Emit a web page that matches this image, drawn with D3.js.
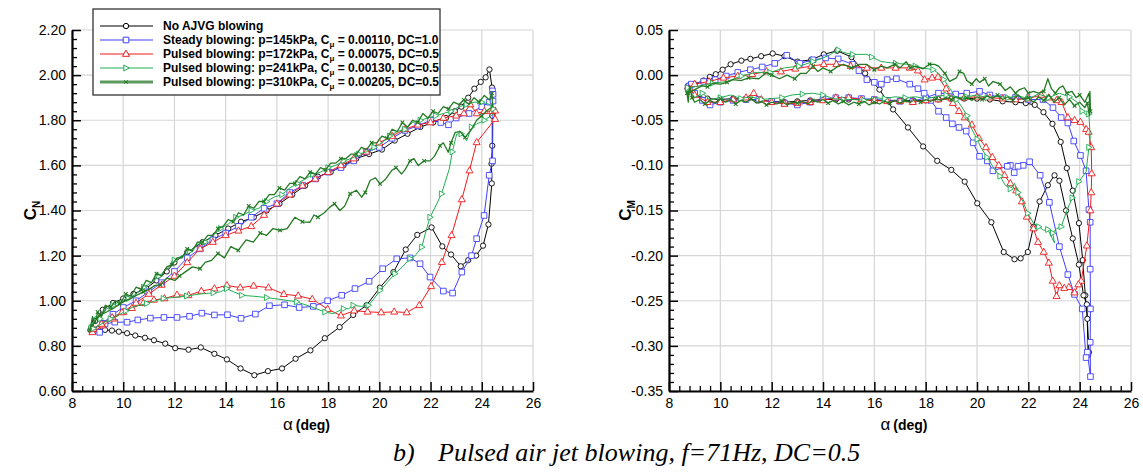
<!DOCTYPE html>
<html><head><meta charset="utf-8">
<script src="https://cdn.jsdelivr.net/npm/d3@7"></script>
<style>body{margin:0;background:#fff}svg{display:block}</style>
</head><body>
<svg id="c" width="1143" height="473"></svg>
<script>
// ---------- categories / ticks ----------
const alphaTickValues = [8,10,12,14,16,18,20,22,24,26];
const alphaTickLabels = ["8","10","12","14","16","18","20","22","24","26"];
const cnTickValues = [0.6,0.8,1.0,1.2,1.4,1.6,1.8,2.0,2.2];
const cnTickLabels = ["0.60","0.80","1.00","1.20","1.40","1.60","1.80","2.00","2.20"];
const cmTickValues = [-0.35,-0.30,-0.25,-0.20,-0.15,-0.10,-0.05,0.00,0.05];
const cmTickLabels = ["-0.35","-0.30","-0.25","-0.20","-0.15","-0.10","-0.05","0.00","0.05"];

// ---------- legend ----------
const seriesNames = ["No AJVG blowing","Steady blowing","Pulsed blowing","Pulsed blowing","Pulsed blowing"];
const pressures = ["","145kPa","172kPa","241kPa","310kPa"];
const cmuValues = ["","0.00110","0.00075","0.00130","0.00205"];
const dutyCycles = ["","1.0","0.5","0.5","0.5"];

// ---------- C_N data  [alpha, CN] ----------
const cnNoBlowing = [[8.72,0.87],[8.9,0.91],[9.2,0.96],[9.6,0.99],[10.0,1.01],[10.4,1.03],[10.9,1.055],[11.3,1.09],[11.7,1.13],[12.0,1.17],[12.5,1.215],[13.1,1.26],[13.6,1.29],[14.1,1.32],[14.6,1.35],[15.1,1.37],[15.6,1.40],[16.1,1.43],[16.6,1.47],[17.1,1.51],[17.6,1.55],[18.1,1.57],[18.6,1.60],[19.1,1.63],[19.6,1.65],[20.1,1.67],[20.6,1.71],[21.1,1.74],[21.6,1.77],[22.1,1.79],[22.6,1.81],[22.95,1.84],[23.2,1.86],[23.47,1.90],[23.71,1.94],[23.96,1.97],[24.15,1.99],[24.3,2.025],[24.4,1.945],[24.41,1.82],[24.41,1.687],[24.38,1.607],[24.39,1.52],[24.26,1.338],[24.05,1.244],[23.78,1.20],[23.47,1.18],[23.18,1.153],[22.8,1.205],[22.46,1.241],[22.04,1.325],[21.48,1.292],[21.03,1.227],[20.55,1.127],[20.02,1.058],[19.5,0.98],[18.98,0.937],[18.45,0.883],[17.87,0.834],[17.31,0.78],[16.73,0.743],[16.2,0.70],[15.65,0.688],[15.12,0.67],[14.58,0.70],[14.05,0.74],[13.56,0.765],[13.03,0.793],[12.55,0.783],[12.03,0.79],[11.64,0.81],[11.2,0.825],[10.85,0.836],[10.47,0.846],[10.15,0.856],[9.83,0.863],[9.56,0.868],[9.29,0.871],[9.0,0.875],[8.76,0.882]];
const cnSteady = [[8.8,0.87],[9.2,0.9],[9.6,0.94],[10.0,0.97],[10.5,1.0],[11.0,1.04],[11.5,1.08],[12.0,1.13],[12.5,1.19],[13.0,1.23],[13.5,1.27],[14.0,1.30],[14.5,1.33],[15.0,1.37],[15.5,1.41],[16.0,1.43],[16.5,1.48],[17.0,1.51],[17.5,1.54],[18.0,1.57],[18.5,1.59],[19.0,1.62],[19.5,1.66],[20.0,1.68],[20.5,1.72],[21.0,1.755],[21.5,1.775],[22.0,1.80],[22.4,1.79],[22.7,1.78],[23.0,1.81],[23.5,1.83],[24.0,1.86],[24.3,1.88],[24.42,1.93],[24.44,1.915],[24.44,1.885],[24.42,1.62],[24.29,1.556],[24.09,1.378],[23.8,1.275],[23.6,1.20],[23.22,1.127],[22.86,1.034],[22.5,1.043],[21.98,1.105],[21.59,1.164],[21.2,1.19],[20.68,1.186],[20.13,1.142],[19.6,1.086],[19.05,1.054],[18.53,1.024],[17.98,1.0],[17.42,0.975],[16.87,0.97],[16.3,0.982],[15.71,0.978],[15.16,0.941],[14.6,0.922],[14.07,0.938],[13.56,0.937],[13.07,0.945],[12.59,0.931],[12.1,0.926],[11.59,0.926],[11.06,0.923],[10.57,0.915],[10.15,0.905],[9.67,0.905],[9.29,0.897],[9.08,0.86],[8.8,0.865]];
const cnPulsed172 = [[8.8,0.86],[9.2,0.89],[9.6,0.92],[10.0,0.95],[10.5,0.99],[11.0,1.03],[11.5,1.07],[12.0,1.11],[12.5,1.17],[13.0,1.23],[13.5,1.26],[14.0,1.29],[14.5,1.31],[15.0,1.33],[15.5,1.38],[16.0,1.43],[16.5,1.47],[17.0,1.51],[17.5,1.54],[18.0,1.57],[18.5,1.60],[19.0,1.63],[19.5,1.66],[20.0,1.70],[20.5,1.73],[21.0,1.76],[21.5,1.78],[22.0,1.79],[22.5,1.81],[23.0,1.82],[23.3,1.83],[23.55,1.87],[23.8,1.83],[24.1,1.84],[24.4,1.84],[24.52,1.842],[24.52,1.805],[23.8,1.702],[23.52,1.577],[23.22,1.449],[22.82,1.29],[22.44,1.171],[22.02,1.064],[21.56,0.98],[21.07,0.948],[20.58,0.951],[20.07,0.948],[19.54,0.951],[19.02,0.956],[18.5,0.934],[17.98,0.963],[17.38,1.007],[16.83,1.022],[16.27,1.029],[15.67,1.058],[15.09,1.066],[14.57,1.058],[14.05,1.068],[13.56,1.054],[13.05,1.043],[12.55,1.024],[12.1,1.026],[11.61,1.01],[11.2,1.004],[10.78,0.989],[10.34,0.967],[9.95,0.948],[9.57,0.926],[9.15,0.897],[8.83,0.875]];
const cnPulsed241 = [[8.75,0.88],[8.9,0.93],[9.1,0.92],[9.3,0.96],[9.6,0.98],[9.9,1.0],[10.2,1.01],[10.5,1.03],[10.8,1.06],[11.1,1.08],[11.4,1.11],[11.7,1.14],[12.0,1.18],[12.3,1.20],[12.6,1.22],[12.9,1.25],[13.2,1.26],[13.5,1.29],[13.8,1.32],[14.1,1.34],[14.4,1.37],[14.7,1.38],[15.0,1.40],[15.3,1.41],[15.6,1.44],[15.9,1.46],[16.2,1.47],[16.5,1.50],[16.8,1.52],[17.1,1.54],[17.4,1.56],[17.7,1.57],[18.0,1.59],[18.3,1.60],[18.6,1.62],[18.9,1.63],[19.2,1.65],[19.5,1.66],[19.8,1.68],[20.1,1.70],[20.4,1.73],[20.7,1.75],[21.0,1.76],[21.3,1.79],[21.6,1.80],[21.9,1.81],[22.2,1.82],[22.5,1.83],[22.8,1.84],[23.1,1.86],[23.4,1.87],[23.7,1.88],[24.0,1.88],[24.3,1.87],[24.45,1.85],[24.45,1.827],[24.1,1.80],[23.8,1.783],[23.6,1.77],[23.41,1.709],[23.2,1.74],[23.02,1.739],[22.85,1.66],[22.73,1.584],[22.43,1.474],[22.2,1.42],[21.98,1.37],[21.8,1.30],[21.66,1.238],[21.4,1.20],[21.2,1.187],[20.9,1.15],[20.61,1.12],[20.3,1.08],[20.03,1.046],[19.8,1.01],[19.57,0.98],[19.3,0.975],[18.98,0.98],[18.8,0.965],[18.6,0.965],[18.2,0.943],[17.88,0.95],[17.3,0.975],[16.77,0.995],[16.2,1.005],[15.6,1.014],[15.1,1.02],[14.63,1.024],[14.3,1.04],[14.04,1.054],[13.8,1.04],[13.52,1.035],[13.0,1.03],[12.48,1.021],[12.0,1.015],[11.57,1.01],[11.2,0.998],[10.92,0.988],[10.39,0.973],[10.1,0.955],[9.81,0.936],[9.5,0.92],[9.29,0.906],[8.83,0.877]];
const cnPulsed310 = [[8.7,0.87],[8.8,0.93],[8.9,0.90],[9.0,0.95],[9.15,0.93],[9.3,0.98],[9.5,0.97],[9.7,1.0],[9.9,0.99],[10.1,1.03],[10.3,1.02],[10.5,1.06],[10.7,1.05],[10.9,1.09],[11.1,1.08],[11.3,1.12],[11.5,1.11],[11.7,1.15],[11.9,1.16],[12.1,1.19],[12.3,1.19],[12.5,1.23],[12.7,1.22],[12.9,1.26],[13.1,1.26],[13.3,1.29],[13.5,1.29],[13.7,1.32],[13.9,1.33],[14.1,1.36],[14.3,1.35],[14.5,1.39],[14.7,1.38],[14.9,1.42],[15.1,1.41],[15.3,1.44],[15.5,1.44],[15.7,1.47],[15.9,1.47],[16.1,1.50],[16.3,1.49],[16.5,1.52],[16.7,1.52],[16.9,1.55],[17.1,1.54],[17.3,1.57],[17.5,1.56],[17.7,1.59],[17.9,1.58],[18.1,1.61],[18.3,1.61],[18.5,1.63],[18.7,1.63],[18.9,1.65],[19.1,1.65],[19.3,1.68],[19.5,1.67],[19.7,1.70],[19.9,1.70],[20.1,1.73],[20.3,1.72],[20.5,1.76],[20.7,1.75],[20.9,1.79],[21.1,1.77],[21.3,1.80],[21.5,1.79],[21.7,1.83],[21.9,1.81],[22.1,1.84],[22.3,1.83],[22.5,1.86],[22.7,1.85],[22.9,1.88],[23.1,1.87],[23.3,1.89],[23.5,1.87],[23.7,1.90],[23.9,1.88],[24.1,1.91],[24.3,1.89],[24.4,1.92],[24.42,1.86],[24.19,1.842],[24.0,1.82],[23.8,1.80],[23.6,1.76],[23.35,1.724],[23.15,1.75],[22.96,1.746],[22.8,1.70],[22.69,1.658],[22.5,1.70],[22.37,1.687],[22.15,1.64],[21.98,1.62],[21.75,1.62],[21.52,1.599],[21.35,1.63],[21.2,1.62],[21.0,1.58],[20.87,1.562],[20.65,1.59],[20.48,1.577],[20.25,1.54],[20.03,1.518],[19.85,1.545],[19.64,1.533],[19.45,1.48],[19.31,1.459],[19.1,1.49],[18.86,1.474],[18.65,1.42],[18.46,1.40],[18.25,1.43],[18.07,1.415],[17.85,1.39],[17.6,1.37],[17.45,1.38],[17.29,1.348],[17.0,1.35],[16.7,1.37],[16.4,1.32],[16.12,1.312],[15.85,1.32],[15.6,1.29],[15.35,1.30],[15.08,1.26],[14.8,1.27],[14.49,1.223],[14.2,1.24],[13.95,1.19],[13.7,1.21],[13.45,1.179],[13.2,1.17],[13.0,1.142],[12.7,1.15],[12.41,1.127],[12.2,1.11],[12.02,1.09],[11.7,1.10],[11.45,1.07],[11.24,1.068],[11.0,1.05],[10.78,1.039],[10.45,1.02],[10.13,1.002],[9.85,0.985],[9.61,0.966],[9.35,0.95],[9.09,0.936],[8.9,0.91],[8.77,0.884]];

// ---------- C_M data  [alpha, CM] ----------
const cmNoBlowing = [[8.72,-0.015],[9.0,-0.022],[9.5,-0.026],[10.0,-0.027],[10.5,-0.026],[11.0,-0.027],[11.5,-0.028],[12.0,-0.029],[12.5,-0.03],[13.0,-0.029],[13.5,-0.028],[14.0,-0.027],[14.5,-0.027],[15.0,-0.027],[15.5,-0.027],[16.0,-0.028],[16.5,-0.028],[17.0,-0.028],[17.5,-0.028],[18.0,-0.028],[18.5,-0.027],[19.0,-0.026],[19.5,-0.026],[20.0,-0.026],[20.5,-0.027],[21.0,-0.029],[21.5,-0.03],[21.9,-0.031],[22.25,-0.033],[22.59,-0.041],[22.94,-0.054],[23.26,-0.074],[23.5,-0.103],[23.73,-0.128],[23.97,-0.164],[24.12,-0.205],[24.22,-0.244],[24.3,-0.27],[24.36,-0.307],[24.33,-0.31],[24.28,-0.254],[24.15,-0.244],[23.97,-0.21],[23.73,-0.181],[23.47,-0.15],[23.21,-0.117],[23.02,-0.111],[22.76,-0.122],[22.44,-0.14],[22.2,-0.168],[21.98,-0.196],[21.7,-0.203],[21.46,-0.204],[21.04,-0.196],[20.56,-0.163],[20.01,-0.142],[19.52,-0.118],[19.0,-0.105],[18.45,-0.095],[17.9,-0.079],[17.31,-0.058],[16.73,-0.038],[16.2,-0.016],[15.64,0.002],[15.11,0.02],[14.55,0.027],[14.03,0.023],[13.54,0.017],[13.01,0.015],[12.5,0.021],[12.04,0.024],[11.59,0.021],[11.17,0.018],[10.82,0.016],[10.4,0.012],[10.09,0.006],[9.82,0.001],[9.59,-0.002],[9.35,-0.006],[9.0,-0.01],[8.73,-0.012]];
const cmSteady = [[8.8,-0.012],[9.0,-0.02],[9.3,-0.028],[9.6,-0.033],[10.0,-0.03],[10.5,-0.028],[11.0,-0.027],[11.5,-0.027],[12.0,-0.029],[12.5,-0.031],[13.0,-0.033],[13.5,-0.03],[14.0,-0.027],[14.5,-0.025],[15.0,-0.025],[15.5,-0.026],[16.0,-0.027],[16.5,-0.028],[17.0,-0.029],[17.5,-0.029],[18.0,-0.025],[18.5,-0.02],[19.17,-0.021],[19.6,-0.02],[20.1,-0.018],[20.5,-0.022],[21.0,-0.025],[21.5,-0.025],[22.0,-0.027],[22.57,-0.027],[22.96,-0.036],[23.28,-0.047],[23.54,-0.053],[23.77,-0.073],[24.03,-0.089],[24.25,-0.106],[24.36,-0.149],[24.41,-0.163],[24.41,-0.215],[24.42,-0.259],[24.41,-0.296],[24.42,-0.334],[24.3,-0.307],[24.25,-0.313],[24.1,-0.259],[23.8,-0.243],[23.54,-0.221],[23.21,-0.19],[22.82,-0.141],[22.46,-0.111],[22.05,-0.096],[21.8,-0.10],[21.6,-0.101],[21.45,-0.108],[21.3,-0.10],[21.18,-0.101],[20.62,-0.106],[20.4,-0.095],[20.1,-0.09],[19.85,-0.075],[19.58,-0.062],[19.3,-0.058],[19.04,-0.054],[18.8,-0.047],[18.5,-0.04],[18.2,-0.028],[17.94,-0.02],[17.7,-0.015],[17.38,-0.01],[16.86,-0.004],[16.5,-0.005],[16.27,-0.01],[16.0,-0.008],[15.71,-0.005],[15.4,0.005],[15.15,0.012],[14.59,0.018],[14.1,0.019],[13.61,0.017],[13.1,0.013],[12.59,0.022],[12.12,0.013],[11.63,0.009],[11.17,0.006],[10.68,0.003],[10.23,-0.001],[9.8,-0.005],[9.35,-0.007],[8.87,-0.01]];
const cmPulsed172 = [[8.8,-0.015],[9.0,-0.022],[9.5,-0.03],[10.0,-0.03],[10.5,-0.027],[11.0,-0.025],[11.3,-0.02],[11.6,-0.027],[12.0,-0.03],[12.5,-0.032],[13.0,-0.031],[13.5,-0.03],[14.0,-0.028],[14.5,-0.025],[15.0,-0.025],[15.5,-0.027],[16.0,-0.028],[16.5,-0.029],[17.0,-0.029],[17.5,-0.03],[18.0,-0.028],[18.5,-0.027],[19.0,-0.026],[19.5,-0.025],[20.0,-0.024],[20.5,-0.025],[21.0,-0.026],[21.5,-0.027],[22.0,-0.026],[22.5,-0.022],[22.8,-0.025],[23.1,-0.028],[23.3,-0.03],[23.54,-0.047],[23.8,-0.05],[24.03,-0.052],[24.25,-0.06],[24.35,-0.063],[24.45,-0.08],[24.47,-0.109],[24.45,-0.13],[24.42,-0.15],[24.28,-0.189],[24.06,-0.228],[23.95,-0.232],[23.8,-0.241],[23.58,-0.235],[23.4,-0.236],[23.21,-0.233],[23.1,-0.245],[22.95,-0.228],[22.8,-0.208],[22.6,-0.196],[22.38,-0.185],[22.2,-0.17],[21.94,-0.157],[21.75,-0.14],[21.53,-0.128],[21.3,-0.12],[21.07,-0.111],[20.85,-0.1],[20.6,-0.091],[20.35,-0.08],[20.08,-0.07],[19.8,-0.055],[19.52,-0.047],[19.3,-0.04],[19.06,-0.031],[18.8,-0.015],[18.48,-0.002],[18.25,-0.003],[17.96,-0.005],[17.7,0.005],[17.38,0.008],[16.83,0.008],[16.27,0.008],[15.71,0.008],[15.08,0.01],[14.52,0.012],[14.03,0.012],[13.54,0.01],[12.92,0.007],[12.36,0.004],[11.8,0.004],[11.24,0.001],[10.68,-0.001],[10.12,-0.003],[9.56,-0.007],[9.0,-0.01]];
const cmPulsed241 = [[8.75,-0.015],[9.0,-0.025],[9.3,-0.02],[9.6,-0.027],[10.0,-0.025],[10.4,-0.022],[10.8,-0.026],[11.2,-0.024],[11.6,-0.027],[12.0,-0.026],[12.4,-0.025],[12.8,-0.022],[13.2,-0.021],[13.6,-0.02],[14.0,-0.022],[14.4,-0.026],[14.8,-0.027],[15.2,-0.027],[15.6,-0.028],[16.0,-0.025],[16.4,-0.026],[16.8,-0.024],[17.2,-0.025],[17.6,-0.024],[18.0,-0.026],[18.4,-0.024],[18.8,-0.022],[19.2,-0.025],[19.6,-0.024],[20.0,-0.022],[20.4,-0.025],[20.8,-0.023],[21.2,-0.025],[21.6,-0.023],[22.0,-0.026],[22.4,-0.021],[22.8,-0.025],[23.2,-0.02],[23.6,-0.024],[23.9,-0.03],[24.1,-0.04],[24.3,-0.045],[24.36,-0.043],[24.41,-0.069],[24.36,-0.08],[24.25,-0.107],[23.97,-0.118],[23.85,-0.125],[23.71,-0.136],[23.5,-0.15],[23.28,-0.168],[23.1,-0.17],[22.95,-0.175],[23.02,-0.186],[22.76,-0.171],[22.6,-0.172],[22.41,-0.168],[22.2,-0.164],[21.98,-0.153],[21.79,-0.14],[21.6,-0.13],[21.46,-0.12],[21.3,-0.126],[21.1,-0.122],[20.9,-0.112],[20.7,-0.105],[20.39,-0.091],[20.15,-0.08],[20.01,-0.071],[19.8,-0.06],[19.62,-0.045],[19.4,-0.035],[19.2,-0.027],[18.95,-0.015],[18.71,-0.005],[18.5,0.002],[18.29,0.006],[17.87,0.008],[17.6,0.01],[17.31,0.012],[16.83,0.013],[16.27,0.015],[15.9,0.02],[15.71,0.023],[15.15,0.023],[14.8,0.025],[14.59,0.028],[14.17,0.021],[13.61,0.015],[13.3,0.012],[13.06,0.01],[12.5,0.008],[11.94,0.003],[11.38,0.003],[10.82,-0.001],[10.26,-0.007],[9.7,-0.009],[9.15,-0.012],[8.73,-0.014]];
const cmPulsed310 = [[8.7,-0.02],[8.75,-0.03],[8.8,-0.012],[8.9,-0.025],[9.0,-0.03],[9.2,-0.027],[9.4,-0.032],[9.6,-0.028],[9.8,-0.031],[10.0,-0.026],[10.2,-0.03],[10.4,-0.027],[10.6,-0.032],[10.8,-0.028],[11.0,-0.03],[11.2,-0.026],[11.4,-0.031],[11.6,-0.029],[11.8,-0.033],[12.0,-0.03],[12.2,-0.032],[12.4,-0.029],[12.6,-0.033],[12.8,-0.03],[13.0,-0.031],[13.2,-0.029],[13.4,-0.032],[13.6,-0.028],[13.8,-0.03],[14.0,-0.027],[14.2,-0.031],[14.4,-0.028],[14.6,-0.032],[14.8,-0.029],[15.0,-0.033],[15.2,-0.03],[15.4,-0.032],[15.6,-0.029],[15.8,-0.033],[16.0,-0.03],[16.2,-0.032],[16.4,-0.029],[16.6,-0.031],[16.8,-0.028],[17.0,-0.031],[17.2,-0.028],[17.4,-0.03],[17.6,-0.027],[17.8,-0.03],[18.0,-0.027],[18.2,-0.029],[18.4,-0.026],[18.6,-0.028],[18.8,-0.025],[19.0,-0.027],[19.2,-0.024],[19.4,-0.027],[19.6,-0.025],[19.8,-0.028],[20.0,-0.024],[20.2,-0.027],[20.4,-0.023],[20.6,-0.026],[20.8,-0.022],[21.0,-0.027],[21.2,-0.024],[21.4,-0.028],[21.6,-0.022],[21.8,-0.027],[22.0,-0.025],[22.2,-0.03],[22.4,-0.024],[22.6,-0.028],[22.8,-0.022],[23.0,-0.03],[23.2,-0.025],[23.4,-0.033],[23.6,-0.027],[23.8,-0.034],[24.0,-0.03],[24.2,-0.036],[24.3,-0.031],[24.38,-0.045],[24.4,-0.018],[24.42,-0.04],[24.36,-0.02],[24.2,-0.03],[24.0,-0.022],[23.86,-0.025],[23.7,-0.018],[23.5,-0.02],[23.35,-0.012],[23.21,-0.014],[23.05,-0.02],[22.9,-0.015],[22.76,-0.004],[22.6,-0.018],[22.4,-0.02],[22.2,-0.018],[22.0,-0.02],[21.85,-0.014],[21.66,-0.016],[21.5,-0.02],[21.3,-0.013],[21.1,-0.017],[20.9,-0.01],[20.62,-0.007],[20.45,-0.012],[20.3,-0.004],[20.1,-0.008],[19.97,-0.004],[19.8,-0.01],[19.6,-0.006],[19.48,0.002],[19.32,0.004],[19.2,-0.003],[18.93,-0.007],[18.75,0.002],[18.5,0.01],[18.35,0.012],[18.15,0.012],[17.9,0.007],[17.6,0.01],[17.4,0.008],[17.24,0.015],[17.0,0.008],[16.8,0.012],[16.5,0.008],[16.27,0.01],[16.0,0.006],[15.7,0.012],[15.43,0.012],[15.1,0.008],[14.8,0.012],[14.59,0.01],[14.3,0.004],[14.0,0.008],[13.8,0.004],[13.61,0.01],[13.35,0.002],[13.12,0.002],[12.9,-0.004],[12.6,0.0],[12.3,-0.004],[12.0,0.0],[11.8,0.003],[11.5,-0.004],[11.1,-0.003],[10.8,-0.006],[10.5,-0.005],[10.26,-0.008],[10.0,-0.01],[9.7,-0.009],[9.5,-0.013],[9.28,-0.012],[9.0,-0.016],[8.75,-0.02]];

// ---------- styles ----------
const colors = ["#000000","#3f3fff","#ee1a1a","#1fae52","#237a23"];
const markers = ["circle","square","triUp","triRight","cross"];
const markerSteps = [1,1,1,2,3];
const lineWidths = [1,1,1,1,1.3];
const cnSeries = [cnNoBlowing,cnSteady,cnPulsed172,cnPulsed241,cnPulsed310];
const cmSeries = [cmNoBlowing,cmSteady,cmPulsed172,cmPulsed241,cmPulsed310];

const markerPath = {
  circle: d3.symbol().type(d3.symbolCircle).size(22)(),
  square: "M-2.8,-2.8H2.8V2.8H-2.8Z",
  triUp: "M0,-3.9L3.5,2.3L-3.5,2.3Z",
  triRight: "M3.2,0L-2.2,-3L-2.2,3Z",
  cross: "M-1.8,-1.8L1.8,1.8M-1.8,1.8L1.8,-1.8"
};

const FONT = "'Liberation Sans', Arial, Helvetica, sans-serif";
const svg = d3.select("#c");
svg.append("rect").attr("width",1143).attr("height",473).attr("fill","#fff");

function drawPanel(p){
  const g = svg.append("g");
  const x = p.x, y = p.y;
  const [yb, yt] = y.range();
  const [xl, xr] = x.range();
  // grid
  g.selectAll(null).data(alphaTickValues).enter().append("line")
    .attr("x1",d=>x(d)).attr("x2",d=>x(d)).attr("y1",yb).attr("y2",yt)
    .attr("stroke","#d6d6d6").attr("stroke-width",1.2);
  g.selectAll(null).data(p.yTicks).enter().append("line")
    .attr("x1",xl).attr("x2",xr).attr("y1",d=>y(d)).attr("y2",d=>y(d))
    .attr("stroke","#d6d6d6").attr("stroke-width",1.2);
  // series
  p.series.forEach((data,k)=>{
    const line = d3.line().x(d=>x(d[0])).y(d=>y(d[1]));
    g.append("path").attr("d",line(data)).attr("fill","none")
      .attr("stroke",colors[k]).attr("stroke-width",lineWidths[k]).attr("stroke-linejoin","round");
    const pts = data.filter((d,i)=>i % markerSteps[k] === 0);
    g.selectAll(null).data(pts).enter().append("path")
      .attr("transform",d=>`translate(${x(d[0])},${y(d[1])})`)
      .attr("d",markerPath[markers[k]])
      .attr("fill",markers[k]==="cross"?"none":"#fff")
      .attr("stroke",colors[k]).attr("stroke-width",markers[k]==="cross"?1.1:0.9);
  });
  // minor ticks
  const xMinor = d3.range(8,26.001,0.4).filter(v=>Math.abs(v/2-Math.round(v/2))>1e-6);
  g.append("g").attr("transform",`translate(0,${yb})`)
    .call(d3.axisBottom(x).tickValues(xMinor).tickSize(-5).tickSizeOuter(0).tickFormat(""))
    .call(a=>a.select(".domain").remove())
    .call(a=>a.selectAll("line").attr("stroke","#000").attr("stroke-width",1.3));
  g.append("g").attr("transform",`translate(${xl},0)`)
    .call(d3.axisLeft(y).tickValues(p.yMinor).tickSize(-5).tickSizeOuter(0).tickFormat(""))
    .call(a=>a.select(".domain").remove())
    .call(a=>a.selectAll("line").attr("stroke","#000").attr("stroke-width",1.3));
  // major axes
  const xa = g.append("g").attr("transform",`translate(0,${yb})`)
    .call(d3.axisBottom(x).tickValues(alphaTickValues).tickSize(-9).tickSizeOuter(0).tickPadding(7)
      .tickFormat((d,i)=>alphaTickLabels[i]));
  const ya = g.append("g").attr("transform",`translate(${xl},0)`)
    .call(d3.axisLeft(y).tickValues(p.yTicks).tickSize(-9).tickSizeOuter(0).tickPadding(6)
      .tickFormat((d,i)=>p.yLabels[i]));
  [xa,ya].forEach(a=>{
    a.select(".domain").attr("stroke","#000").attr("stroke-width",2.2);
    a.selectAll(".tick line").attr("stroke","#000").attr("stroke-width",1.5);
    a.selectAll("text").attr("fill","#000").attr("font-family",FONT).attr("font-size",14);
  });
  // axis titles
  const xt = svg.append("text").attr("x",(xl+xr)/2+4).attr("y",430)
    .attr("text-anchor","middle").attr("font-family",FONT).attr("fill","#000");
  xt.append("tspan").attr("font-size",17).text("α");
  xt.append("tspan").attr("font-size",14).attr("font-weight","bold").attr("dx",3).text("(deg)");
  const yt2 = svg.append("text").attr("transform",`translate(${p.titleX},${(yb+yt)/2}) rotate(-90)`)
    .attr("text-anchor","middle").attr("font-family",FONT).attr("font-weight","bold").attr("fill","#000");
  yt2.append("tspan").attr("font-size",17).text("C");
  yt2.append("tspan").attr("font-size",10).attr("dy",4).text(p.sub);
}

const xL = d3.scaleLinear().domain([8,26]).range([72,533]);
const yL = d3.scaleLinear().domain([0.6,2.2]).range([391,30]);
const xR = d3.scaleLinear().domain([8,26]).range([669,1131]);
const yR = d3.scaleLinear().domain([-0.35,0.05]).range([391,30]);

drawPanel({x:xL,y:yL,yTicks:cnTickValues,yLabels:cnTickLabels,
  yMinor:d3.range(0.6,2.2001,0.04).filter(v=>Math.abs(v*5-Math.round(v*5))>1e-6),
  series:cnSeries,sub:"N",titleX:36});
drawPanel({x:xR,y:yR,yTicks:cmTickValues,yLabels:cmTickLabels,
  yMinor:d3.range(-0.35,0.0501,0.01).filter(v=>Math.abs(v*20-Math.round(v*20))>1e-6),
  series:cmSeries,sub:"M",titleX:631});

// legend
const lg = svg.append("g");
lg.append("rect").attr("x",93).attr("y",9).attr("width",347).attr("height",86)
  .attr("fill","#fff").attr("stroke","#333").attr("stroke-width",1.3);
const rowY = [26,40,54,68,82];
seriesNames.forEach((name,k)=>{
  const yy = rowY[k];
  lg.append("line").attr("x1",100).attr("x2",153).attr("y1",yy).attr("y2",yy)
    .attr("stroke",k===4?"#5f9a5f":colors[k]).attr("stroke-width",k===4?3:1.1);
  lg.append("path").attr("transform",`translate(126,${yy})`).attr("d",markerPath[markers[k]])
    .attr("fill",markers[k]==="cross"?"none":"#fff").attr("stroke",colors[k]).attr("stroke-width",1);
  const t = lg.append("text").attr("x",163).attr("y",yy+4.3).attr("font-family",FONT)
    .attr("font-weight","bold").attr("font-size",12).attr("fill","#000");
  if(k===0){ t.text(name); }
  else {
    t.append("tspan").text(`${name}: p=${pressures[k]}, C`);
    t.append("tspan").attr("font-size",8).attr("dy",2.5).text("μ");
    t.append("tspan").attr("dy",-2.5).text(` = ${cmuValues[k]}, DC=${dutyCycles[k]}`);
  }
});

// caption
const cap = svg.append("text").attr("y",461).attr("font-family","'Liberation Serif','Times New Roman',serif")
  .attr("font-style","italic").attr("font-size",26).attr("fill","#000");
cap.append("tspan").attr("x",393).text("b)");
cap.append("tspan").attr("x",438).text("Pulsed air jet blowing, f=71Hz, DC=0.5");
</script>
</body></html>
